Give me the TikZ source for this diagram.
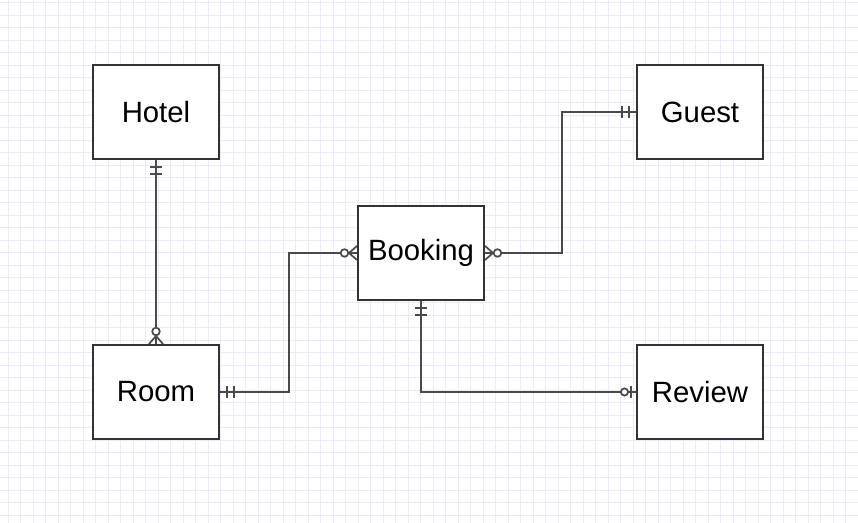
\documentclass[tikz,border=0pt]{standalone}
\usepackage{fontspec}
\setmainfont{Liberation Sans}
\usetikzlibrary{calc}
\definecolor{gridc}{HTML}{ECEAFA}
\definecolor{boxc}{HTML}{333333}
\definecolor{linec}{HTML}{4A4A4A}
\tikzset{
  x=0.75pt, y=0.75pt,
  entity/.style={draw=boxc, line width=1.5pt, fill=white, minimum width=94.5pt, minimum height=70.5pt, inner sep=0pt,
    font=\fontsize{22}{26}\selectfont},
  conn/.style={draw=linec, line width=1.2pt},
  mk/.style={draw=linec, line width=1.3pt},
  pics/mand/.style={code={\draw[mk] (7,-6)--(7,6) (14,-6)--(14,6);}},
  pics/zmany/.style={code={\draw[mk] (0,-7)--(8,0)--(0,7) (0,0)--(8,0); \draw[mk,fill=white] (12.5,0) circle[radius=3.8];}},
  pics/zone/.style={code={\draw[mk] (5,-6)--(5,6); \draw[mk,fill=white] (11.5,0) circle[radius=3.6];}}
}
\begin{document}
\begin{tikzpicture}
\useasboundingbox (0,0) rectangle (858,523);
\fill[white] (0,0) rectangle (858,523);
\foreach \i in {0,...,68} {\draw[gridc, line width=0.75pt] ({8+12.5*\i},0) -- ({8+12.5*\i},523);}
\foreach \j in {0,...,41} {\draw[gridc, line width=0.75pt] (0,{523-2.7-12.5*\j}) -- (858,{523-2.7-12.5*\j});}

\node[entity] (hotel) at (156,411) {Hotel};
\node[entity] (guest) at (700,411) {Guest};
\node[entity] (booking) at (421,270) {Booking};
\node[entity] (room) at (156,131) {Room};
\node[entity] (review) at (700,131) {Review};

% Hotel - Room
\draw[conn] (hotel.south) -- (room.north);
\path (hotel.south) pic[rotate=-90] {mand};
\path (room.north) pic[rotate=90] {zmany};

% Room - Booking
\coordinate (rb) at ($(room.east)+(69,0)$);
\draw[conn] (room.east) -- (rb) |- (booking.west);
\path (room.east) pic {mand};
\path (booking.west) pic[rotate=180] {zmany};

% Booking - Guest
\coordinate (bg) at ($(booking.east)+(77,0)$);
\draw[conn] (booking.east) -- (bg) |- (guest.west);
\path (booking.east) pic {zmany};
\path (guest.west) pic[rotate=180] {mand};

% Booking - Review
\draw[conn] (booking.south) |- (review.west);
\path (booking.south) pic[rotate=-90] {mand};
\path (review.west) pic[rotate=180] {zone};
\end{tikzpicture}
\end{document}
